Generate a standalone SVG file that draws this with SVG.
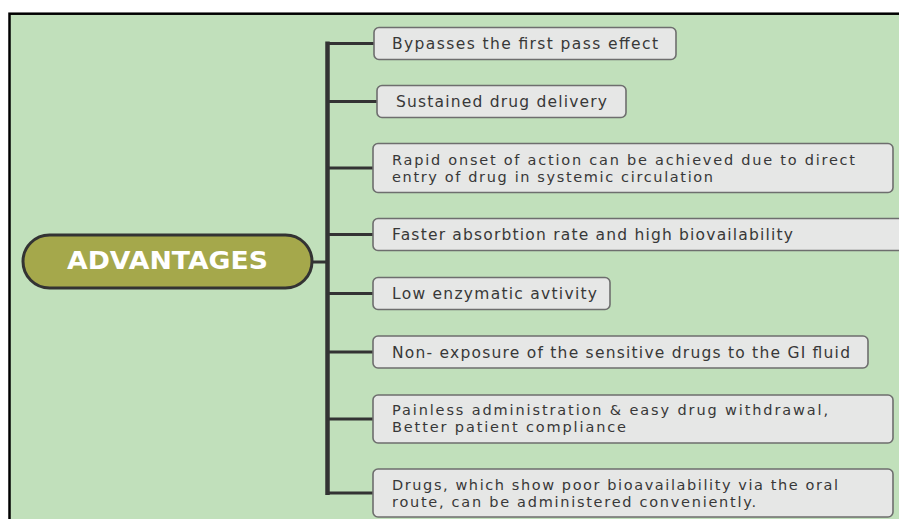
<svg xmlns="http://www.w3.org/2000/svg" width="899" height="519" viewBox="0 0 899 519">
<style>
.bg{fill:#c1e0bb;stroke:#000;stroke-width:2.5}
.box{fill:#e6e7e6;stroke:#6e6e6e;stroke-width:1.6}
.t{font-family:"DejaVu Sans","Liberation Sans",sans-serif;font-size:15.5px;fill:#383838}
.t2{font-size:14.5px}
.root{fill:#a5a84b;stroke:#333;stroke-width:3}
.rt{font-family:"DejaVu Sans","Liberation Sans",sans-serif;font-size:24px;font-weight:bold;fill:#fff}
.c{stroke:#333;fill:none}
</style>
<rect x="0" y="0" width="899" height="519" fill="#fff"/>
<rect class="bg" x="9.5" y="13.7" width="895" height="510"/>
<g id="connectors">
<line class="c" x1="327.5" y1="41.5" x2="327.5" y2="495" stroke-width="4.5"/>
<line class="c" x1="312" y1="262" x2="327.5" y2="262" stroke-width="3"/>
<line class="c" x1="327.5" y1="43.5" x2="374" y2="43.5" stroke-width="3"/>
<line class="c" x1="327.5" y1="101.5" x2="377" y2="101.5" stroke-width="3"/>
<line class="c" x1="327.5" y1="168" x2="373" y2="168" stroke-width="3"/>
<line class="c" x1="327.5" y1="234.5" x2="373" y2="234.5" stroke-width="3"/>
<line class="c" x1="327.5" y1="293.5" x2="373" y2="293.5" stroke-width="3"/>
<line class="c" x1="327.5" y1="352" x2="373" y2="352" stroke-width="3"/>
<line class="c" x1="327.5" y1="419" x2="373" y2="419" stroke-width="3"/>
<line class="c" x1="327.5" y1="493" x2="373" y2="493" stroke-width="3"/>
</g>
<g id="root">
<rect class="root" x="23" y="235" width="289" height="53" rx="26.5"/>
<text class="rt" x="167.5" y="269" text-anchor="middle" textLength="201" lengthAdjust="spacingAndGlyphs">ADVANTAGES</text>
</g>
<g id="n1">
<rect class="box" x="374" y="27.5" width="302" height="32" rx="5"/>
<text class="t" x="392" y="48.5" textLength="266">Bypasses the first pass effect</text>
</g>
<g id="n2">
<rect class="box" x="377" y="85.5" width="249" height="32" rx="5"/>
<text class="t" x="396" y="106.5" textLength="211">Sustained drug delivery</text>
</g>
<g id="n3">
<rect class="box" x="373" y="143.5" width="520" height="49" rx="5"/>
<text class="t t2"><tspan x="392" y="164.5" textLength="463">Rapid onset of action can be achieved due to direct</tspan><tspan x="392" y="181.5" textLength="321">entry of drug in systemic circulation</tspan></text>
</g>
<g id="n4">
<rect class="box" x="373" y="218.5" width="540" height="32" rx="5"/>
<text class="t" x="392" y="240" textLength="401">Faster absorbtion rate and high biovailability</text>
</g>
<g id="n5">
<rect class="box" x="373" y="277.5" width="237" height="32" rx="5"/>
<text class="t" x="392" y="299" textLength="205">Low enzymatic avtivity</text>
</g>
<g id="n6">
<rect class="box" x="373" y="336" width="495" height="32" rx="5"/>
<text class="t" x="392" y="357.5" textLength="458">Non- exposure of the sensitive drugs to the GI fluid</text>
</g>
<g id="n7">
<rect class="box" x="373" y="395" width="520" height="48" rx="5"/>
<text class="t t2"><tspan x="392" y="415" textLength="436">Painless administration &amp; easy drug withdrawal,</tspan><tspan x="392" y="432" textLength="234">Better patient compliance</tspan></text>
</g>
<g id="n8">
<rect class="box" x="373" y="469" width="520" height="48" rx="5"/>
<text class="t t2"><tspan x="392" y="489.5" textLength="446">Drugs, which show poor bioavailability via the oral</tspan><tspan x="392" y="506.5" textLength="364">route, can be administered conveniently.</tspan></text>
</g>
</svg>
